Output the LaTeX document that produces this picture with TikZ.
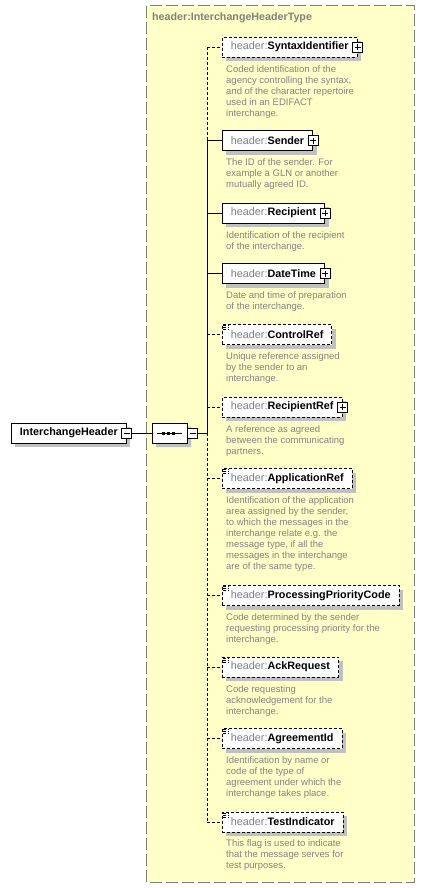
\documentclass[tikz,border=0pt]{standalone}
\usepackage{fontspec}
\setmainfont{Liberation Sans}
\usetikzlibrary{shadows, shapes.misc}

\definecolor{panelfill}{RGB}{255,255,200}
\definecolor{panelline}{RGB}{128,128,128}
\definecolor{prefixgray}{RGB}{125,125,140}
\definecolor{descgray}{RGB}{130,130,130}
\definecolor{shadowgray}{RGB}{192,192,192}

\newcommand{\elname}[1]{{\color{prefixgray}header:}\textbf{#1}}

\begin{document}
\begin{tikzpicture}[
    x=1pt, y=-1pt,
    panel/.style={draw=panelline, fill=panelfill, line width=1pt,
                  dash pattern=on 12pt off 4pt},
    typename/.style={anchor=west, text=panelline, inner sep=0pt,
                     font=\fontsize{10.7}{12}\selectfont\bfseries},
    element/.style={draw, fill=white, line width=0.9pt, anchor=west,
                    minimum height=20pt, inner xsep=8.5pt, inner ysep=0pt,
                    font=\fontsize{10.8}{13}\selectfont,
                    drop shadow={shadow xshift=4pt, shadow yshift=-4pt,
                                 fill=shadowgray, opacity=1}},
    optional/.style={element, dash pattern=on 3pt off 2pt},
    simple/.style={path picture={
        \fill[white] ([xshift=0.5pt, yshift=-0.5pt]path picture bounding box.north west) rectangle ++(7,6.5);
        \draw[line width=0.8pt]
            ([xshift=1pt, yshift=-1pt]path picture bounding box.north west) -- ++(6,0)
            ([xshift=1pt, yshift=-3pt]path picture bounding box.north west) -- ++(6,0)
            ([xshift=1pt, yshift=-5pt]path picture bounding box.north west) -- ++(6,0);}},
    desc/.style={anchor=north west, align=left, inner sep=0pt, text=descgray,
                 font=\fontsize{9.5}{11}\selectfont},
    toggle/.style={draw, fill=white, line width=0.9pt, minimum size=10pt,
                   inner sep=0pt},
    expand/.style={toggle, path picture={
        \draw[line width=0.9pt]
            ([xshift=2pt]path picture bounding box.west) -- ([xshift=-2pt]path picture bounding box.east)
            ([yshift=2pt]path picture bounding box.south) -- ([yshift=-2pt]path picture bounding box.north);}},
    collapse/.style={toggle, path picture={
        \draw[line width=0.9pt]
            ([xshift=2pt]path picture bounding box.west) -- ([xshift=-2pt]path picture bounding box.east);}},
    sequence/.style={chamfered rectangle, chamfered rectangle xsep=5pt,
                     chamfered rectangle ysep=5pt, draw, fill=white,
                     line width=0.9pt, minimum width=35pt, minimum height=20pt,
                     inner sep=0pt,
                     drop shadow={shadow xshift=4pt, shadow yshift=-4pt,
                                  fill=shadowgray, opacity=1}},
    link/.style={line width=0.9pt},
    optlink/.style={link, dash pattern=on 3pt off 2pt}
]
\useasboundingbox (0,0) rectangle (425,888);

% Type panel
\draw[panel] (146,6) rectangle (414,882);
\node[typename] (typename) at (152,18) {header:InterchangeHeaderType};

% Root element and sequence
\node[element] (root) at (11,433) {\textbf{InterchangeHeader}\hspace{4.5pt}};
\node[collapse] (root-minus) at (root.east) {};
\node[sequence] (seq) at (169.5,433) {};
\node[collapse, anchor=west] (seq-minus) at (seq.east) {};
\draw[link] ([xshift=5pt]seq.west) -- ([xshift=-5pt]seq.east);
\fill ([xshift=-6.5pt]seq.center) +(-1.5,-1.5) rectangle +(1.5,1.5);
\fill ([xshift=-1.5pt]seq.center) +(-1.5,-1.5) rectangle +(1.5,1.5);
\fill ([xshift=3.5pt]seq.center) +(-1.5,-1.5) rectangle +(1.5,1.5);
\coordinate (spine) at (207,433);

% Child elements
\node[optional] (syntax) at (222,47) {\elname{SyntaxIdentifier}\hspace{4pt}};
\node[expand] (syntax-plus) at (syntax.east) {};
\node[desc] (syntax-d) at ([xshift=4pt, yshift=-8pt]syntax.south west)
    {Coded identification of the\\agency controlling the syntax,\\and of the character repertoire\\used in an EDIFACT\\interchange.};

\node[element] (sender) at (222,140.5) {\elname{Sender}\hspace{4pt}};
\node[expand] (sender-plus) at (sender.east) {};
\node[desc] (sender-d) at ([xshift=4pt, yshift=-7.5pt]sender.south west)
    {The ID of the sender. For\\example a GLN or another\\mutually agreed ID.};

\node[element] (recipient) at (222,213) {\elname{Recipient}\hspace{4pt}};
\node[expand] (recipient-plus) at (recipient.east) {};
\node[desc] (recipient-d) at ([xshift=4pt, yshift=-7.5pt]recipient.south west)
    {Identification of the recipient\\of the interchange.};

\node[element] (datetime) at (222,273.5) {\elname{DateTime}\hspace{4pt}};
\node[expand] (datetime-plus) at (datetime.east) {};
\node[desc] (datetime-d) at ([xshift=4pt, yshift=-7.5pt]datetime.south west)
    {Date and time of preparation\\of the interchange.};

\node[optional, simple] (controlref) at (222,334.5) {\elname{ControlRef}};
\node[desc] (controlref-d) at ([xshift=4pt, yshift=-7.5pt]controlref.south west)
    {Unique reference assigned\\by the sender to an\\interchange.};

\node[optional] (recipientref) at (222,407) {\elname{RecipientRef}\hspace{4pt}};
\node[expand] (recipientref-plus) at (recipientref.east) {};
\node[desc] (recipientref-d) at ([xshift=4pt, yshift=-7.5pt]recipientref.south west)
    {A reference as agreed\\between the communicating\\partners.};

\node[optional, simple] (appref) at (222,478.5) {\elname{ApplicationRef}};
\node[desc] (appref-d) at ([xshift=4pt, yshift=-7.5pt]appref.south west)
    {Identification of the application\\area assigned by the sender,\\to which the messages in the\\interchange relate e.g. the\\message type, if all the\\messages in the interchange\\are of the same type.};

\node[optional, simple] (priority) at (222,595.5) {\elname{ProcessingPriorityCode}};
\node[desc] (priority-d) at ([xshift=4pt, yshift=-7.5pt]priority.south west)
    {Code determined by the sender\\requesting processing priority for the\\interchange.};

\node[optional, simple] (ackreq) at (222,667) {\elname{AckRequest}};
\node[desc] (ackreq-d) at ([xshift=4pt, yshift=-7.5pt]ackreq.south west)
    {Code requesting\\acknowledgement for the\\interchange.};

\node[optional, simple] (agreement) at (222,738.5) {\elname{AgreementId}};
\node[desc] (agreement-d) at ([xshift=4pt, yshift=-7.5pt]agreement.south west)
    {Identification by name or\\code of the type of\\agreement under which the\\interchange takes place.};

\node[optional, simple] (testind) at (222,822) {\elname{TestIndicator}};
\node[desc] (testind-d) at ([xshift=4pt, yshift=-7pt]testind.south west)
    {This flag is used to indicate\\that the message serves for\\test purposes.};

% Connectors
\draw[link] (root-minus) -- (seq);
\draw[link] (seq-minus) -- (spine);
\draw[optlink] (spine |- syntax.west) -- (spine |- sender.west);
\draw[link] (spine |- sender.west) -- (spine);
\draw[optlink] (spine) -- (spine |- testind.west);
\draw[optlink] (spine |- syntax.west) -- (syntax);
\draw[link] (spine |- sender.west) -- (sender);
\draw[link] (spine |- recipient.west) -- (recipient);
\draw[link] (spine |- datetime.west) -- (datetime);
\draw[optlink] (spine |- controlref.west) -- (controlref);
\draw[optlink] (spine |- recipientref.west) -- (recipientref);
\draw[optlink] (spine |- appref.west) -- (appref);
\draw[optlink] (spine |- priority.west) -- (priority);
\draw[optlink] (spine |- ackreq.west) -- (ackreq);
\draw[optlink] (spine |- agreement.west) -- (agreement);
\draw[optlink] (spine |- testind.west) -- (testind);

\end{tikzpicture}
\end{document}
